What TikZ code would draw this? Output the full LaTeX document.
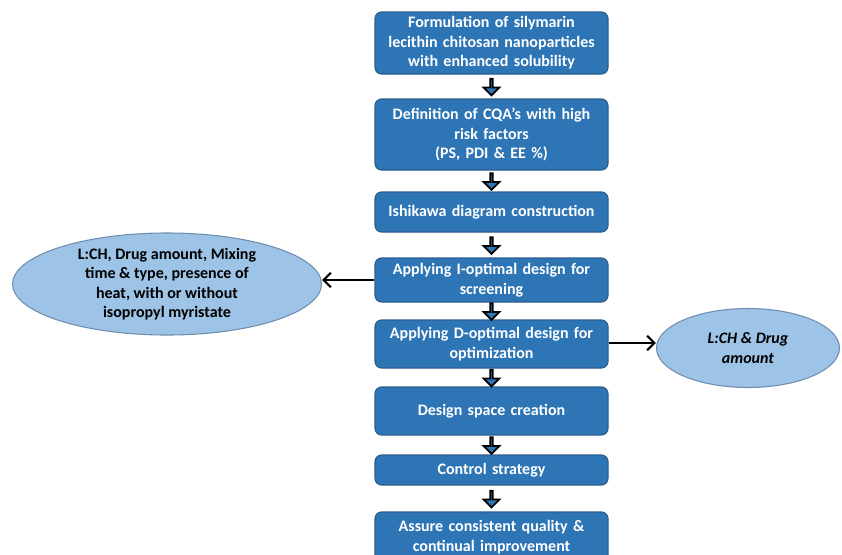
\documentclass[tikz,border=0pt]{standalone}
\usepackage{fontspec}
\setmainfont{Carlito}
\usetikzlibrary{shapes.geometric,shapes.arrows,arrows.meta,calc}
\definecolor{boxfill}{HTML}{2E75B6}
\definecolor{boxline}{HTML}{2B5E91}
\definecolor{ellfill}{HTML}{9DC3E6}
\definecolor{ellline}{HTML}{6F8FAF}
\tikzset{
  flowbox/.style={rectangle, rounded corners=5pt, fill=boxfill, draw=boxline, line width=0.9pt,
    text=white, font=\bfseries\fontsize{12}{14.6}\selectfont, align=center,
    minimum width=174.75pt, text width=172pt, inner sep=0pt},
  sidebubble/.style={ellipse, fill=ellfill, draw=ellline, line width=0.8pt,
    text=black, font=\bfseries\fontsize{12}{14.6}\selectfont, align=center, inner sep=0pt},
  downarrow/.style={single arrow, shape border rotate=270, fill=boxfill, draw=black, line width=1.3pt,
    minimum width=12pt, single arrow head extend=3.5pt, minimum height=12.5pt, inner sep=0pt},
  link/.style={line width=1.6pt, draw=black, -{Straight Barb[length=5.5pt,width=11pt,line width=1.6pt]}}
}
\begin{document}
\begin{tikzpicture}[x=0.75pt,y=-0.75pt]
\useasboundingbox (0,0) rectangle (842,554);
\node[flowbox, minimum height=46.5pt] (b1) at (491.5,43) {Formulation of silymarin\\lecithin chitosan nanoparticles\\with enhanced solubility};
\node[flowbox, minimum height=53.25pt] (b2) at (491.5,134.5) {Definition of CQA’s with high\\risk factors\\(PS, PDI \& EE \%)};
\node[flowbox, minimum height=30pt] (b3) at (491.5,212) {Ishikawa diagram construction};
\node[flowbox, minimum height=33pt] (b4) at (491.5,280) {Applying I-optimal design for\\screening};
\node[flowbox, minimum height=36pt] (b5) at (491.5,344) {Applying D-optimal design for\\optimization};
\node[flowbox, minimum height=36pt] (b6) at (491.5,411) {Design space creation};
\node[flowbox, minimum height=22.5pt] (b7) at (491.5,470) {Control strategy};
\node[flowbox, minimum height=37.5pt] (b8) at (491.5,537) {Assure consistent quality \&\\continual improvement};
\node[sidebubble, minimum width=231.75pt, minimum height=66.75pt] (eL) at (167,284) {L:CH, Drug amount, Mixing\\time \& type, presence of\\heat, with or without\\isopropyl myristate};
\node[sidebubble, minimum width=137.25pt, minimum height=59.25pt, font=\bfseries\itshape\fontsize{12}{14.6}\selectfont] (eR) at (748,348) {L:CH \& Drug\\amount};
\foreach \a/\b in {b1/b2,b2/b3,b3/b4,b4/b5,b5/b6,b6/b7,b7/b8}{
  \node[downarrow] (arr-\a) at ($(\a.south)!0.5!(\b.north)$) {};
}
\coordinate (s5) at ([yshift=0.75pt]b5.east);
\draw[link] (b4.west) -- (eL.east |- b4.west);
\draw[link] (s5) -- (eR.west |- s5);
\end{tikzpicture}
\end{document}
